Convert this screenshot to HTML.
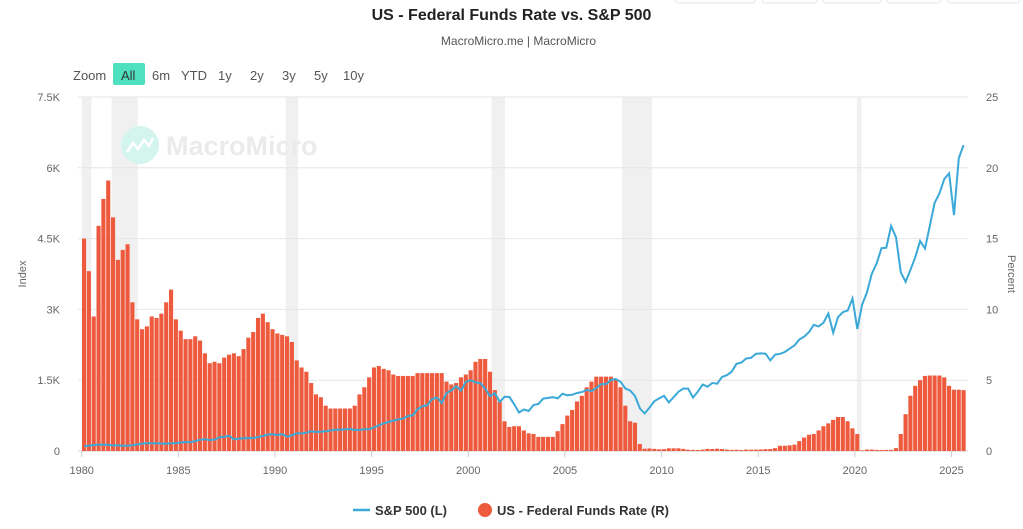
<!DOCTYPE html>
<html><head><meta charset="utf-8"><style>
body{margin:0;width:1023px;height:529px;background:#fff;font-family:"Liberation Sans",sans-serif;overflow:hidden;position:relative}
.t{position:absolute}
</style></head><body>
<div class="t" style="left:0;width:1023px;top:7px;text-align:center;font-size:16px;font-weight:bold;color:#222">US - Federal Funds Rate vs. S&amp;P 500</div>
<div class="t" style="left:0;width:1037px;top:34px;text-align:center;font-size:12px;color:#555">MacroMicro.me | MacroMicro</div>
<svg width="1023" height="529" style="position:absolute;left:0;top:0" id="c">
<g font-size="13" fill="#555">
<text x="73" y="80">Zoom</text>
<rect x="113" y="63" width="32" height="22" rx="2" fill="#4fe0c0"/>
<text x="121" y="80" fill="#333">All</text>
<text x="152" y="80">6m</text>
<text x="181" y="80">YTD</text>
<text x="218" y="80">1y</text>
<text x="250" y="80">2y</text>
<text x="282" y="80">3y</text>
<text x="314" y="80">5y</text>
<text x="343" y="80">10y</text>
</g>
<g fill="none" stroke="#e6e6e6">
<rect x="675" y="-5" width="80" height="8" rx="3"/>
<rect x="762" y="-5" width="55" height="8" rx="3"/>
<rect x="823" y="-5" width="58" height="8" rx="3"/>
<rect x="887" y="-5" width="54" height="8" rx="3"/>
<rect x="948" y="-5" width="72" height="8" rx="3"/>
</g>
<g id="rec"></g>
<g>
<circle cx="140" cy="145" r="19" fill="#d3f5ee"/>
<path d="M127 152 l6-9 5 6 6-9 5 6 4-8" stroke="#fff" stroke-width="2.5" fill="none"/>
<text x="166" y="155" font-size="27" font-weight="bold" fill="#ebebeb">MacroMicro</text>
</g>
<g id="grid"></g>
<g id="bars"></g>
<path id="line" fill="none" stroke="#3aa9d8" stroke-width="2"/>
<g id="axes" font-size="11" fill="#666"></g>
<text transform="translate(26,274) rotate(-90)" text-anchor="middle" font-size="11" fill="#666">Index</text>
<text transform="translate(1008,274) rotate(90)" text-anchor="middle" font-size="11" fill="#666">Percent</text>
<g><line x1="353" y1="510" x2="370" y2="510" stroke="#3aa9d8" stroke-width="2.5"/><text x="375" y="515" font-size="13" font-weight="bold" fill="#333">S&amp;P 500 (L)</text></g>
<g><circle cx="485" cy="510" r="7" fill="#ee5a3e"/><text x="497" y="515" font-size="13" font-weight="bold" fill="#333">US - Federal Funds Rate (R)</text></g>
</svg>
<script>
const years=[1980,1981,1982,1983,1984,1985,1986,1987,1988,1989,1990,1991,1992,1993,1994,1995,1996,1997,1998,1999,2000,2001,2002,2003,2004,2005,2006,2007,2008,2009,2010,2011,2012,2013,2014,2015,2016,2017,2018,2019,2020,2021,2022,2023,2024,2025];
const fedFunds=[[15,12.7,9.5,15.9],[17.8,19.1,16.5,13.5],[14.2,14.6,10.5,9.3],[8.6,8.8,9.5,9.4],[9.7,10.5,11.4,9.3],[8.5,7.9,7.9,8.1],[7.8,6.9,6.2,6.3],[6.2,6.6,6.8,6.9],[6.7,7.2,8.0,8.4],[9.4,9.7,9.1,8.6],[8.3,8.2,8.1,7.7],[6.4,5.9,5.6,4.8],[4.0,3.8,3.2,3.0],[3.0,3.0,3.0,3.0],[3.2,4.0,4.5,5.2],[5.9,6.0,5.8,5.7],[5.4,5.3,5.3,5.3],[5.3,5.5,5.5,5.5],[5.5,5.5,5.5,4.9],[4.7,4.8,5.2,5.4],[5.7,6.3,6.5,6.5],[5.6,4.3,3.5,2.1],[1.7,1.75,1.75,1.45],[1.25,1.2,1.0,1.0],[1.0,1.0,1.4,1.9],[2.5,2.9,3.5,3.9],[4.5,4.9,5.25,5.25],[5.25,5.25,5.1,4.5],[3.2,2.1,2.0,0.5],[0.16,0.18,0.15,0.12],[0.13,0.19,0.19,0.19],[0.15,0.09,0.08,0.07],[0.1,0.15,0.14,0.16],[0.14,0.1,0.08,0.09],[0.07,0.1,0.09,0.1],[0.11,0.13,0.14,0.2],[0.37,0.37,0.4,0.45],[0.7,0.95,1.15,1.2],[1.45,1.75,1.95,2.2],[2.4,2.4,2.1,1.6],[1.2,0.05,0.1,0.1],[0.08,0.07,0.08,0.08],[0.2,1.2,2.6,3.9],[4.6,5.0,5.3,5.33],[5.33,5.33,5.2,4.6],[4.33,4.33,4.3]];
const sp500=[[102,114,125,136],[136,131,116,122],[111,110,120,140],[153,168,166,165],[159,153,166,167],[180,191,182,211],[238,250,231,242],[291,304,321,247],[258,273,271,277],[294,317,349,353],[339,358,306,330],[375,371,387,417],[403,408,417,435],[451,450,458,466],[445,444,462,459],[500,544,584,615],[645,670,687,740],[757,885,947,970],[1101,1133,1017,1229],[1286,1372,1282,1469],[1498,1454,1436,1320],[1160,1224,1040,1148],[1147,989,815,879],[848,974,995,1111],[1126,1140,1114,1211],[1180,1191,1228,1248],[1294,1270,1335,1418],[1420,1503,1526,1468],[1322,1280,1166,903],[797,919,1057,1115],[1169,1030,1141,1257],[1325,1320,1131,1257],[1408,1362,1440,1426],[1569,1606,1681,1848],[1872,1960,1972,2058],[2067,2063,1920,2043],[2059,2098,2168,2238],[2362,2423,2519,2673],[2640,2718,2913,2506],[2834,2941,2976,3230],[2584,3100,3363,3756],[3972,4297,4307,4766],[4530,3785,3585,3839],[4109,4450,4288,4769],[5254,5460,5762,5881],[5000,6205,6480]];
const recessions=[[1980.0,1980.5],[1981.55,1982.9],[1990.55,1991.2],[2001.2,2001.9],[2007.95,2009.5],[2020.1,2020.35]];
const leftTicks=[0,1500,3000,4500,6000,7500];
const leftLabels=["0","1.5K","3K","4.5K","6K","7.5K"];
const rightTicks=[0,5,10,15,20,25];
const xTicks=[1980,1985,1990,1995,2000,2005,2010,2015,2020,2025];
const NS="http://www.w3.org/2000/svg";
const X=t=>81.7+(t-1980)*19.33, YL=v=>451-v/7500*354, YR=v=>451-v/25*354;
function mk(tag,attrs,parent){const e=document.createElementNS(NS,tag);for(const k in attrs)e.setAttribute(k,attrs[k]);parent.appendChild(e);return e;}
const rec=document.getElementById('rec'),grid=document.getElementById('grid'),bars=document.getElementById('bars'),axes=document.getElementById('axes');
recessions.forEach(r=>{const e=mk('rect',{x:X(r[0]),y:97,width:X(r[1])-X(r[0]),height:354,fill:'#f0f0f0'},rec);

});
leftTicks.forEach((v,i)=>{const l=mk('line',{x1:78,x2:968,y1:YL(v),y2:YL(v),stroke:i==0?'#ccc':'#e6e6e6'},grid);


const t=mk('text',{x:60,y:YL(v)+4,'text-anchor':'end'},axes);t.textContent=leftLabels[i];

});
rightTicks.forEach(v=>{const t=mk('text',{x:986,y:YR(v)+4},axes);t.textContent=v;

});
xTicks.forEach(y=>{mk('line',{x1:X(y),x2:X(y),y1:451,y2:457,stroke:'#ccc'},axes);
const t=mk('text',{x:X(y),y:474,'text-anchor':'middle'},axes);t.textContent=y;

});
fedFunds.forEach((qs,i)=>qs.forEach((v,q)=>{const t=years[i]+q/4;
const b=mk('rect',{x:X(t)+0.3,y:YR(v),width:19.33/4-0.7,height:451-YR(v),fill:'#ee5a3e'},bars);

}));
let d='';sp500.forEach((qs,i)=>qs.forEach((v,q)=>{const t=years[i]+q/4+0.125;d+=(d?'L':'M')+X(t).toFixed(1)+' '+YL(v).toFixed(1);}));
const ln=document.getElementById('line');ln.setAttribute('d',d);


</script>
</body></html>
